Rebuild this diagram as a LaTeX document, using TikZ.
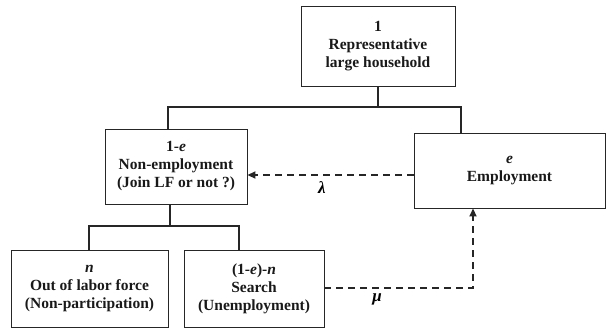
\documentclass[tikz,border=0pt]{standalone}
\usepackage{fontspec}
\setmainfont{Liberation Serif}
\usetikzlibrary{arrows.meta}
\begin{document}
\begin{tikzpicture}[x=1pt,y=-1pt,
  box/.style={draw=black!85,line width=0.9pt,align=center,inner sep=0pt,font=\fontsize{15.5}{18}\selectfont\bfseries,text=black!90},
  tree/.style={line width=1.8pt,black!85},
  flow/.style={line width=1.8pt,black!85,dash pattern=on 7pt off 5pt,-{Triangle[length=8pt,width=7pt]}},
  lbl/.style={font=\fontsize{17}{18}\selectfont\bfseries\itshape}]
\useasboundingbox (0,0) rectangle (607,330);
\node[box,minimum width=154pt,minimum height=80pt] (top) at (378,46) {1\\Representative\\large household};
\node[box,minimum width=142pt,minimum height=75pt] (nonemp) at (176,166.5) {1-\textit{e}\\Non-employment\\(Join LF or not ?)};
\node[box,minimum width=191pt,minimum height=75pt] (emp) at (509.5,170.5) {\textit{e}\\Employment};
\node[box,minimum width=157pt,minimum height=77pt] (olf) at (89.5,288.5) {\textit{n}\\Out of labor force\\(Non-participation)};
\node[box,minimum width=140pt,minimum height=77pt] (search) at (254,288.5) {(1-\textit{e})-\textit{n}\\Search\\(Unemployment)};
\coordinate (j1) at (378,107);
\coordinate (j1l) at (168,107);
\coordinate (j1r) at (461,107);
\coordinate (j2) at (170,226);
\coordinate (j2l) at (89,226);
\coordinate (j2r) at (239,226);
\coordinate (ly) at (0,175);
\coordinate (my) at (0,288);
\coordinate (mx) at (473,288);
\draw[tree] (top.south) -- (j1);
\draw[tree] (j1l|-nonemp.north) -- (j1l) -- (j1r) -- (j1r|-emp.north);
\draw[tree] (j2|-nonemp.south) -- (j2);
\draw[tree] (j2l|-olf.north) -- (j2l) -- (j2r) -- (j2r|-search.north);
\draw[flow] (emp.west|-ly) -- (nonemp.east|-ly);
\node[lbl] (lam) at (322,188) {λ};
\draw[flow] (search.east|-my) -- (mx) -- (mx|-emp.south);
\node[lbl] (mu) at (377,299) {μ};
\end{tikzpicture}
\end{document}
